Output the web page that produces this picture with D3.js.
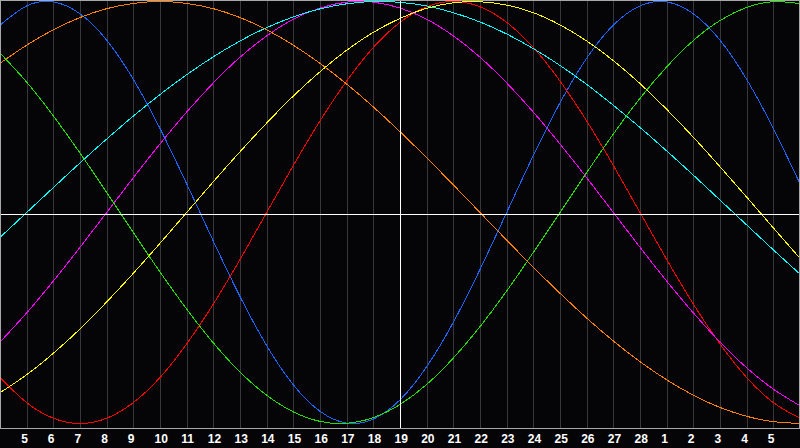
<!DOCTYPE html>
<html>
<head>
<meta charset="utf-8">
<script src="https://cdn.jsdelivr.net/npm/d3@7"></script>
<style>
  html, body { margin: 0; padding: 0; background: #050508; }
  svg { display: block; }
  .tick text { font-family: "Liberation Sans", Arial, sans-serif; font-weight: bold; font-size: 12px; fill: #ffffff; }
</style>
</head>
<body>
<div id="chart"></div>
<script>
// day labels, one per grid column (first and last sit on the frame edges)
var days = ["4","5","6","7","8","9","10","11","12","13","14","15","16","17","18","19","20",
  "21","22","23","24","25","26","27","28","1","2","3","4","5","6"];

// cycle values per day (-1 .. 1)
var physical = [0.888,0.979,0.998,0.942,0.817,0.631,0.398,0.136,-0.136,-0.398,-0.631,-0.817,-0.942,-0.998,-0.979,-0.888,
  -0.731,-0.520,-0.270,0,0.270,0.520,0.731,0.888,0.979,0.998,0.942,0.817,0.631,0.398,0.136];
var emotional = [-0.782,-0.901,-0.975,-1,-0.975,-0.901,-0.782,-0.623,-0.434,-0.223,0,0.223,0.434,0.623,0.782,0.901,
  0.975,1,0.975,0.901,0.782,0.623,0.434,0.223,0,-0.223,-0.434,-0.623,-0.782,-0.901,-0.975];
var intellectual = [0.756,0.618,0.458,0.282,0.095,-0.095,-0.282,-0.458,-0.618,-0.756,-0.866,-0.945,-0.990,-0.999,-0.972,-0.910,
  -0.815,-0.690,-0.541,-0.372,-0.189,0,0.189,0.372,0.541,0.690,0.815,0.910,0.972,0.999,0.990];
var intuitive = [-0.614,-0.476,-0.325,-0.165,0,0.165,0.325,0.476,0.614,0.736,0.837,0.916,0.969,0.997,0.997,0.969,
  0.916,0.837,0.736,0.614,0.476,0.325,0.165,0,-0.165,-0.325,-0.476,-0.614,-0.736,-0.837,-0.916];
var aesthetic = [-0.854,-0.769,-0.667,-0.552,-0.424,-0.288,-0.146,0,0.146,0.288,0.424,0.552,0.667,0.769,0.854,0.920,
  0.968,0.994,0.999,0.983,0.947,0.889,0.813,0.720,0.611,0.489,0.357,0.217,0.073,-0.073,-0.217];
var awareness = [0.707,0.793,0.866,0.924,0.966,0.991,1,0.991,0.966,0.924,0.866,0.793,0.707,0.609,0.5,0.383,
  0.259,0.131,0,-0.131,-0.259,-0.383,-0.5,-0.609,-0.707,-0.793,-0.866,-0.924,-0.966,-0.991,-1];
var spiritual = [-0.118,0,0.118,0.235,0.348,0.457,0.559,0.653,0.738,0.813,0.876,0.927,0.965,0.989,1,0.996,
  0.979,0.947,0.903,0.846,0.777,0.697,0.607,0.508,0.403,0.292,0.177,0.059,-0.059,-0.177,-0.292];

var series = [
  { name: "physical", values: physical, color: "#1a66ff" },
  { name: "emotional", values: emotional, color: "#ff0000" },
  { name: "intuitive", values: intuitive, color: "#ff00ff" },
  { name: "spiritual", values: spiritual, color: "#00ffff" },
  { name: "aesthetic", values: aesthetic, color: "#ffff00" },
  { name: "intellectual", values: intellectual, color: "#22e000" },
  { name: "awareness", values: awareness, color: "#ff7f00" }
];

var svgWidth = 800;
var svgHeight = 448;
var plotHeight = 428;

var svg = d3.select("#chart")
  .append("svg")
  .attr("width", svgWidth)
  .attr("height", svgHeight);

svg.append("rect")
  .attr("width", svgWidth)
  .attr("height", svgHeight)
  .attr("fill", "#050508");

var x = d3.scaleLinear()
  .domain([0, days.length - 1])
  .range([0, svgWidth]);

var y = d3.scaleLinear()
  .domain([-1, 1])
  .range([423.5, 1.5]);

var inner = d3.range(1, days.length - 1);

// vertical day grid
svg.append("g")
  .selectAll("line")
  .data(inner)
  .enter()
  .append("line")
  .attr("x1", d => Math.round(x(d)) + 0.5)
  .attr("x2", d => Math.round(x(d)) + 0.5)
  .attr("y1", 0)
  .attr("y2", plotHeight)
  .attr("stroke", "#38383a")
  .attr("stroke-width", 1);

// the cycles
var line = d3.line()
  .x((d, i) => x(i))
  .y(d => y(d))
  .curve(d3.curveNatural);

svg.append("g")
  .selectAll("path")
  .data(series)
  .enter()
  .append("path")
  .attr("d", d => line(d.values))
  .attr("fill", "none")
  .attr("stroke", d => d.color)
  .attr("stroke-width", 1)
  .attr("shape-rendering", "crispEdges");

// today marker and zero line
var today = days.length >> 1;
svg.append("line")
  .attr("x1", Math.round(x(today)) + 0.5)
  .attr("x2", Math.round(x(today)) + 0.5)
  .attr("y1", 0)
  .attr("y2", plotHeight)
  .attr("stroke", "#ffffff");

svg.append("line")
  .attr("x1", 0)
  .attr("x2", svgWidth)
  .attr("y1", plotHeight / 2 + 0.5)
  .attr("y2", plotHeight / 2 + 0.5)
  .attr("stroke", "#ffffff");

// frame
svg.append("rect")
  .attr("x", 0.5)
  .attr("y", 0.5)
  .attr("width", svgWidth - 1)
  .attr("height", plotHeight)
  .attr("fill", "none")
  .attr("stroke", "#a8a8a8");

// day labels
var xAxis = d3.axisBottom(x)
  .tickValues(inner)
  .tickFormat(d => days[d])
  .tickSize(0)
  .tickPadding(0);

var axisG = svg.append("g")
  .attr("transform", `translate(0, ${plotHeight})`)
  .call(xAxis);

axisG.select(".domain").remove();
axisG.selectAll("text")
  .attr("text-anchor", "start")
  .attr("x", -6)
  .attr("y", 15)
  .attr("dy", null);
</script>
</body>
</html>
